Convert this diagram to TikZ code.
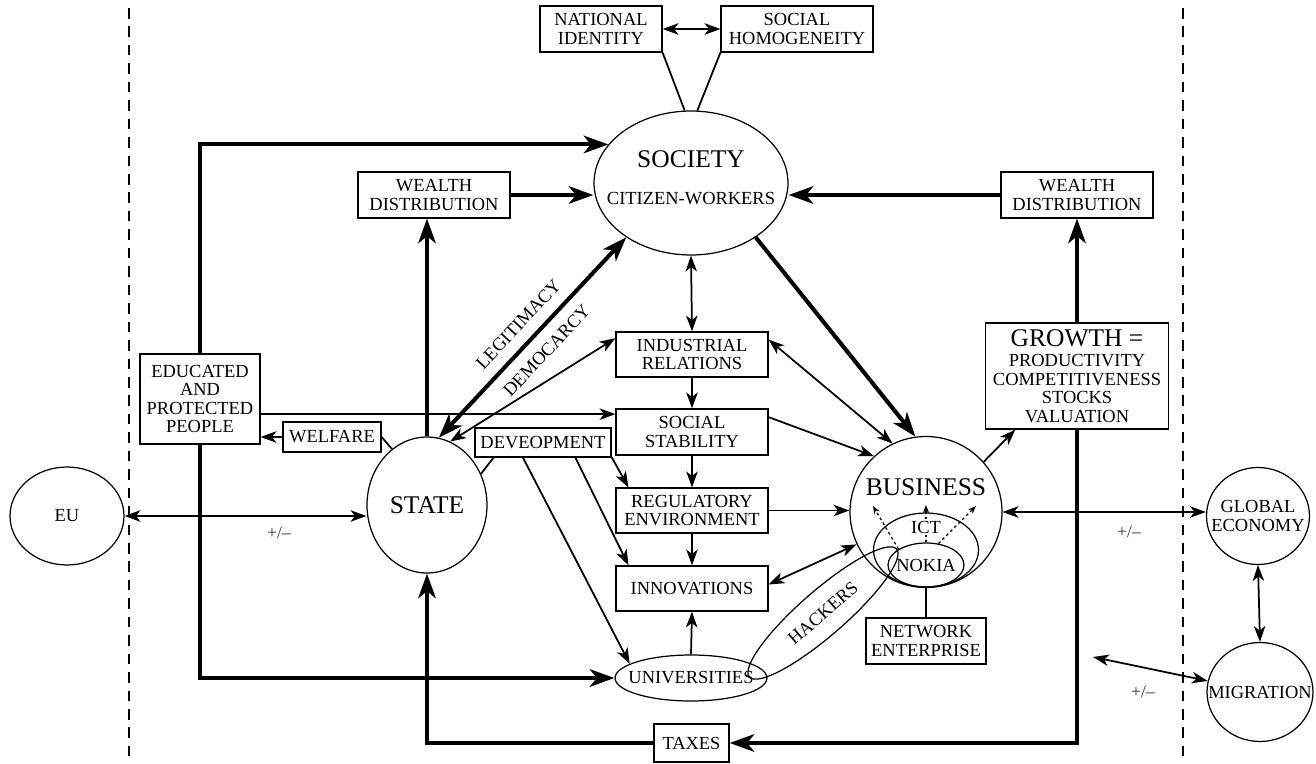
\documentclass[tikz,border=0pt]{standalone}
\usepackage{fontspec}
\setmainfont{Liberation Serif}
\usetikzlibrary{arrows.meta,shapes.geometric}

\newcommand{\bigfont}{\fontsize{14.5}{16}\selectfont}

\tikzset{
  box/.style={draw, line width=0.7pt, inner sep=0pt, align=center,
    minimum width=3.04cm, minimum height=0.92cm},
  oval/.style={draw, ellipse, line width=0.7pt, inner sep=0pt},
  plain/.style={line width=1pt},
  link/.style={line width=1pt, -{Stealth[length=9pt,width=6.5pt,inset=2.5pt]}},
  linkboth/.style={line width=1pt,
    {Stealth[length=9pt,width=6.5pt,inset=2.5pt]}-{Stealth[length=9pt,width=6.5pt,inset=2.5pt]}},
  flow/.style={line width=2.3pt, -{Stealth[length=14pt,width=10pt,inset=4pt]}},
  flowboth/.style={line width=2.3pt,
    {Stealth[length=14pt,width=10pt,inset=4pt]}-{Stealth[length=14pt,width=10pt,inset=4pt]}},
  hint/.style={line width=0.7pt, dash pattern=on 1.6pt off 1.6pt, -{Stealth[length=4.5pt,width=3.5pt]}},
  border/.style={line width=1.1pt, dash pattern=on 6pt off 4.5pt},
  sign/.style={font=\fontsize{10}{12}\selectfont, text=black!80}
}

\begin{document}
\begin{tikzpicture}[x=0.02cm, y=-0.02cm, font=\fontsize{10.5}{10.6}\selectfont]
\useasboundingbox (0,0) rectangle (1316,764);
% National borders
\draw[border] (129,8) -- (129,764);
\draw[border] (1183,8) -- (1183,764);

% Society and its identity
\node [oval, minimum width=3.88cm, minimum height=2.88cm,
    label={[yshift=0.48cm, font=\bigfont]center:SOCIETY},
    label={[yshift=-0.32cm]center:CITIZEN-WORKERS}] (soc) at (691,183) {};
\node [box, minimum width=2.44cm] (natid) at (601,29) {NATIONAL\\IDENTITY};
\node [box] (homog) at (797,29) {SOCIAL\\HOMOGENEITY};

% Wealth distribution
\node [box] (wealthl) at (434,195) {WEALTH\\DISTRIBUTION};
\node [box] (wealthr) at (1077,195) {WEALTH\\DISTRIBUTION};

% State side
\node [box, minimum width=2.4cm, minimum height=1.8cm] (people) at (200,399)
    {EDUCATED\\AND\\PROTECTED\\PEOPLE};
\node [box, minimum width=1.96cm, minimum height=0.6cm] (welfare) at (332,437) {WELFARE};
\node [oval, minimum width=2.4cm, minimum height=2.72cm,
    label={[font=\bigfont]center:STATE}] (state) at (427,505) {};
\node [box, minimum width=2.72cm, minimum height=0.58cm] (devel) at (543,442.5) {DEVEOPMENT};
\node [oval, minimum width=2.28cm, minimum height=1.96cm,
    label={center:EU}] (eu) at (67,516) {};

% Middle column
\node [box, minimum height=0.9cm] (indrel) at (692,354.5) {INDUSTRIAL\\RELATIONS};
\node [box] (stab) at (692,432) {SOCIAL\\STABILITY};
\node [box, minimum height=0.9cm] (regul) at (692,510.5) {REGULATORY\\ENVIRONMENT};
\node [box, minimum height=0.9cm] (innov) at (692,588.5) {INNOVATIONS};
\node [oval, minimum width=3.04cm, minimum height=0.92cm,
    label={center:UNIVERSITIES}] (univ) at (691,678) {};
\node [box, minimum width=1.5cm, minimum height=0.76cm] (taxes) at (691.5,743) {TAXES};

% Business
\node [oval, minimum width=3.04cm, minimum height=3.02cm,
    label={[yshift=0.5cm, font=\bigfont]center:BUSINESS}] (bus) at (926,512) {};
\node [oval, minimum width=2.1cm, minimum height=1.48cm] (ict) at (926,550) {};
\node [oval, minimum width=1.52cm, minimum height=0.88cm,
    label={center:NOKIA}] (nokia) at (926,565) {};
\node [oval, rotate=41, minimum width=3.9cm, minimum height=0.9cm] (hackers) at (823,613) {HACKERS};
\node [box, minimum width=2.4cm] (network) at (926,641) {NETWORK\\ENTERPRISE};
\node [box, minimum width=3.66cm, minimum height=2.12cm] (growth) at (1077,376)
    {{\bigfont GROWTH =}\\[1pt]PRODUCTIVITY\\COMPETITIVENESS\\STOCKS\\VALUATION};

% Outside world
\node [oval, minimum width=2.06cm, minimum height=1.94cm,
    label={[align=center]center:GLOBAL\\ECONOMY}] (global) at (1258,516) {};
\node [oval, minimum width=2.12cm, minimum height=1.98cm,
    label={center:MIGRATION}] (migr) at (1260,692) {};
\coordinate (migrend) at (1093,657);

% Signs
\node [sign] (signeu) at (279,533) {+/--};
\node [sign] (signglobal) at (1129,532) {+/--};
\node [sign] (signmigr) at (1143,692) {+/--};

% Thick flows
\draw [flow] (people.north) |- (soc.155);
\draw [flow] (people.south) |- (univ.west);
\draw [flow] (wealthl.east) -- (wealthl.east -| soc.west);
\draw [flow] (wealthr.west) -- (wealthr.west -| soc.east);
\draw [flow] (state.north) -- (state.north |- wealthl.south);
\draw [flow] (growth.north) -- (wealthr.south);
\draw [flow] (soc.-40) -- (bus.98);
\draw [flow] (growth.south) |- (taxes.east);
\draw [flow] (taxes.west) -| (state.south);
\draw [flowboth] (state.80) -- (soc.220)
    node [midway, above=3pt, sloped] {LEGITIMACY}
    node [midway, below=3pt, sloped] {DEMOCARCY};

% Thin links
\draw [linkboth] (natid.east) -- (homog.west);
\draw [plain] (natid.south east) -- (soc.95);
\draw [plain] (homog.south west) -- (soc.85);
\draw [linkboth] (soc.south) -- (indrel.north);
\draw [link] (indrel) -- (stab);
\draw [link] (stab) -- (regul);
\draw [link] (regul) -- (innov);
\draw [link] (univ.north) -- (innov.south);
\draw [linkboth] (state.70) -- (indrel.168);
\draw [link] (people.-14) -- (people.-14 -| stab.west);
\draw [link] (welfare.west) -- (welfare.west -| people.east);
\draw [plain] (welfare.east) -- (state.122);
\draw [plain] (devel.197.5) -- (state.30);
\draw [link] (devel.-12) -- (regul.160);
\draw [link] (devel.-25) -- (innov.160);
\draw [link] (devel.217) -- (univ.167);
\draw [link] (stab.11) -- (bus.133);
\draw [linkboth] (indrel.11) -- (bus.116);
\draw [link] (regul.east) -- (regul.east -| bus.west);
\draw [linkboth] (innov.3) -- (bus.205);
\draw [link] (bus.41) -- (growth.221);
\draw [plain] (bus.south) -- (network.north);
\draw [linkboth] (eu.east) -- (eu.east -| state.west);
\draw [linkboth] (bus.east) -- (bus.east -| global.west);
\draw [linkboth] (global.south) -- (migr.north);
\draw [linkboth] (migrend) -- (migr.168);

% ICT spreading out of NOKIA
\coordinate (ictl) at (873,506);
\coordinate (ictc) at (926,505);
\coordinate (ictr) at (976,506);
\draw [hint] (nokia.150) -- (ictl);
\draw [hint] (nokia.north) -- (ictc);
\draw [hint] (nokia.60) -- (ictr);
\node [fill=white, inner sep=1pt] (ictlabel) at (926,527) {ICT};
\end{tikzpicture}
\end{document}
